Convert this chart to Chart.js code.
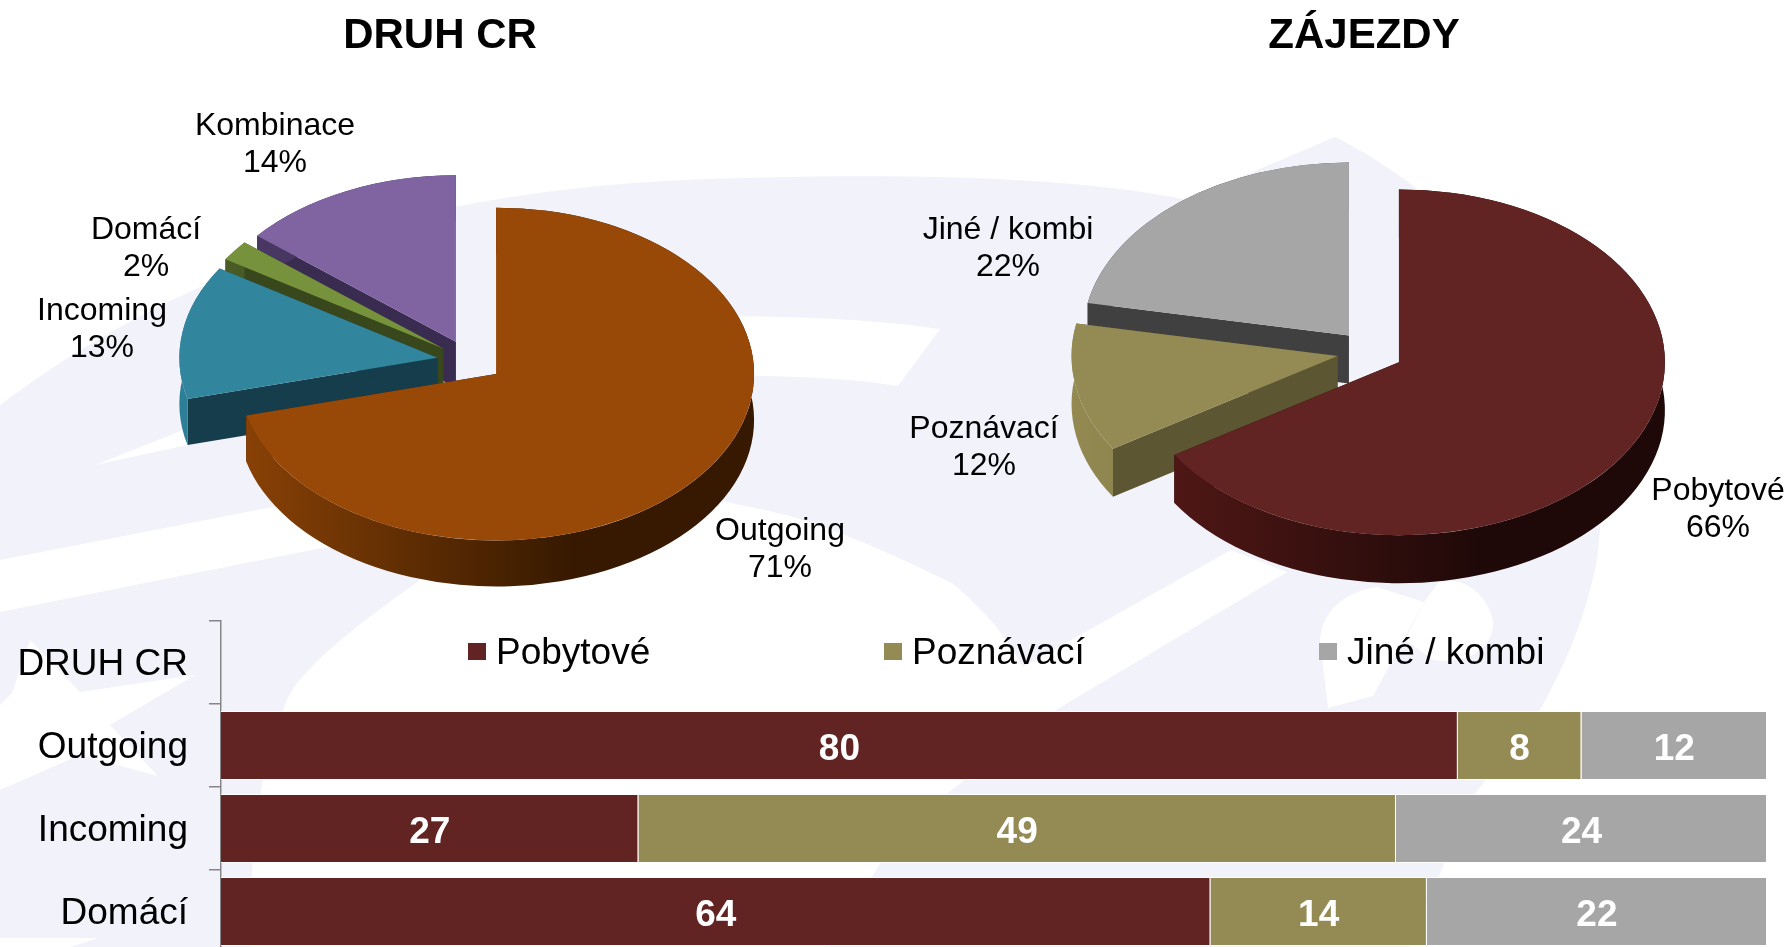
<!DOCTYPE html>
<html>
<head>
<meta charset="utf-8">
<title>Druh CR / Zájezdy</title>
<script src="https://cdn.jsdelivr.net/npm/chart.js@4"></script>
<style>
  html, body { margin: 0; width: 1789px; height: 947px; overflow: hidden; background: #fff; }
  canvas, svg { position: absolute; left: 0; top: 0; }
</style>
</head>
<body>
<!-- faint watermark behind the charts -->
<svg width="1789" height="947">
  <path fill="#f1f2fa" d="M0,405 C160,285 376,194 684,180 C912,171 1084,178 1187,200 L1335,137 C1440,190 1560,300 1600,450 C1605,490 1600,530 1597,560 C1585,620 1565,665 1540,710 L1470,800 L1410,947 L0,947 Z"/>
  <g fill="#fff">
    <path d="M0,560 L267,508 L560,470 L560,510 L317,549 L0,612 Z"/>
    <path d="M417,582 L500,520 L640,480 L740,505 C800,515 853,535 952,583 C985,610 1005,635 1023,667 L1231,550 L1287,572 L1056,710 L900,830 L830,947 L250,947 C250,830 262,760 287,700 C300,670 350,630 417,582 Z"/>
    <path d="M700,316 C800,316 880,320 940,329 L898,386 C850,378 800,376 700,375 Z"/>
    <path d="M95,465 L188,445 L183,430 Z"/>
    <path d="M0,705 L12,693 L30,640 L80,692 L195,675 L110,725 L158,776 L80,755 L0,790 Z"/>
    <path d="M0,938 L98,938 L70,947 L0,947 Z"/>
    <path d="M1320,640 C1322,610 1345,592 1377,587 L1424,602 L1373,696 L1328,708 Z"/>
    <path d="M1424,602 L1440,580 C1470,578 1490,600 1493,623 C1493,650 1465,665 1433,660 L1405,640 Z"/>
  </g>
</svg>

<canvas id="pie_druh" width="1789" height="947"></canvas>
<canvas id="pie_zajezdy" width="1789" height="947"></canvas>
<canvas id="bar_druh" width="1789" height="960"></canvas>

<script>
const FONT = '"Liberation Sans", Arial, sans-serif';

// left pie
const druhLabels = ['Outgoing', 'Incoming', 'Domácí', 'Kombinace'];
const druhValues = [71, 13, 2, 14];
const druhColors = ['#984807', '#31859c', '#76923c', '#8064a2'];
const druhSides = ['#3d1c00', '#163d4b', '#39481c', '#3a2c50'];
const druhWalls = [['#8a4206', '#361900'], ['#2d7f98', '#1c5265'], ['#4b5f26', '#39481c'], ['#4b3a66', '#3a2c50']];
const druhLabelX = [780, 102, 146, 275];
const druhLabelY = [531, 311, 230, 126];

// right pie
const zajezdyLabels = ['Pobytové', 'Poznávací', 'Jiné / kombi'];
const zajezdyValues = [66, 12, 22];
const zajezdyColors = ['#622423', '#948a54', '#a6a6a6'];
const zajezdySides = ['#240b0a', '#5d5632', '#404040'];
const zajezdyWalls = [['#551917', '#1f0908'], ['#938951', '#6f683c'], ['#404040', '#404040']];
const zajezdyLabelX = [1718, 984, 1008];
const zajezdyLabelY = [491, 429, 230];

// stacked bars
const barCategories = ['DRUH CR', 'Outgoing', 'Incoming', 'Domácí'];
const barPobytove = [null, 80, 27, 64];
const barPoznavaci = [null, 8, 49, 14];
const barJine = [null, 12, 24, 22];
const legendX = [468, 884, 1319];

// Fake 3D: squash each library arc into an ellipse, pull it out along its bisector
// and put a side wall under it. Back slices first so the front ones overlap them.
const pie3d = {
  id: 'pie3d',
  beforeDatasetDraw(chart, args, o) {
    const ctx = chart.ctx;
    const arcs = args.meta.data;
    for (let i = arcs.length - 1; i >= 0; i--) {
      const arc = arcs[i];
      const mid = (arc.startAngle + arc.endAngle) / 2;
      const r = arc.outerRadius;
      const ry = r * o.tilt;
      const cx = arc.x + Math.cos(mid) * o.explode;
      const cy = arc.y + Math.sin(mid) * o.explode * o.tilt;

      //cut faces
      ctx.fillStyle = o.sides[i];
      [arc.startAngle, arc.endAngle].forEach(a => {
        const px = cx + Math.cos(a) * r;
        const py = cy + Math.sin(a) * ry;
        ctx.beginPath();
        ctx.moveTo(cx, cy);
        ctx.lineTo(px, py);
        ctx.lineTo(px, py + o.depth);
        ctx.lineTo(cx, cy + o.depth);
        ctx.closePath();
        ctx.fill();
      });

      //outer wall
      const grad = ctx.createLinearGradient(cx - r, 0, cx + r * 0.3, 0);
      grad.addColorStop(0, o.walls[i][0]);
      grad.addColorStop(1, o.walls[i][1]);
      ctx.fillStyle = grad;
      ctx.beginPath();
      ctx.ellipse(cx, cy, r, ry, 0, arc.startAngle, arc.endAngle);
      ctx.ellipse(cx, cy + o.depth, r, ry, 0, arc.endAngle, arc.startAngle, true);
      ctx.closePath();
      ctx.fill();

      //top face
      ctx.save();
      ctx.translate(cx, cy);
      ctx.scale(1, o.tilt);
      ctx.translate(-arc.x, -arc.y);
      arc.draw(ctx);
      ctx.restore();
    }
    return false;
  },
  afterDraw(chart, args, o) {
    const ctx = chart.ctx;
    const values = chart.data.datasets[0].data;
    ctx.save();
    ctx.fillStyle = '#000';
    ctx.textAlign = 'center';
    ctx.textBaseline = 'middle';
    ctx.font = '32px ' + FONT;
    chart.data.labels.forEach((label, i) => {
      ctx.fillText(label, o.labelX[i], o.labelY[i]);
      ctx.fillText(values[i] + '%', o.labelX[i], o.labelY[i] + 37);
    });
    ctx.font = 'bold 42px ' + FONT;
    ctx.fillText(o.title, o.titleX, 36);
    ctx.restore();
  }
};

function drawPie(id, labels, values, colors, padding, extra) {
  new Chart(document.getElementById(id), {
    type: 'pie',
    data: {
      labels: labels,
      datasets: [{ data: values, backgroundColor: colors, borderWidth: 0 }]
    },
    options: {
      responsive: false,
      animation: false,
      layout: { padding: padding },
      plugins: {
        legend: { display: false },
        tooltip: { enabled: false },
        pie3d: Object.assign({ explode: 33 }, extra)
      }
    },
    plugins: [pie3d]
  });
}

drawPie('pie_druh', druhLabels, druhValues, druhColors,
  { left: 212, right: 1061, top: 103, bottom: 328 },
  { tilt: 0.645, depth: 46, sides: druhSides, walls: druhWalls, labelX: druhLabelX, labelY: druhLabelY, title: 'DRUH CR', titleX: 440 });

drawPie('pie_zajezdy', zajezdyLabels, zajezdyValues, zajezdyColors,
  { left: 1104, right: 153, top: 86, bottom: 329 },
  { tilt: 0.65, depth: 48, sides: zajezdySides, walls: zajezdyWalls, labelX: zajezdyLabelX, labelY: zajezdyLabelY, title: 'ZÁJEZDY', titleX: 1364 });

// numbers inside the bars and the legend sitting in the empty first row
const barText = {
  id: 'barText',
  afterDatasetsDraw(chart) {
    const ctx = chart.ctx;
    ctx.save();
    ctx.textBaseline = 'middle';
    chart.data.datasets.forEach((ds, d) => {
      ctx.textAlign = 'center';
      ctx.fillStyle = '#fff';
      ctx.font = 'bold 37px ' + FONT;
      chart.getDatasetMeta(d).data.forEach((bar, i) => {
        if (ds.data[i] === null) return;
        const c = bar.getCenterPoint();
        ctx.fillText(ds.data[i], c.x, c.y + 4);
      });

      ctx.fillStyle = ds.backgroundColor;
      ctx.fillRect(legendX[d], 643, 18, 17);
      ctx.textAlign = 'left';
      ctx.fillStyle = '#000';
      ctx.font = '37px ' + FONT;
      ctx.fillText(ds.label, legendX[d] + 28, 654);
    });
    ctx.restore();
  }
};

new Chart(document.getElementById('bar_druh'), {
  type: 'bar',
  data: {
    labels: barCategories,
    datasets: [
      { label: 'Pobytové', data: barPobytove, backgroundColor: '#622423' },
      { label: 'Poznávací', data: barPoznavaci, backgroundColor: '#948a54' },
      { label: 'Jiné / kombi', data: barJine, backgroundColor: '#a6a6a6' }
    ]
  },
  options: {
    indexAxis: 'y',
    responsive: false,
    animation: false,
    layout: { padding: { top: 621, right: 22, bottom: 7 } },
    datasets: {
      bar: { barPercentage: 0.83, categoryPercentage: 1, borderWidth: 1, borderColor: '#fff' }
    },
    scales: {
      x: { display: false, stacked: true, min: 0, max: 100 },
      y: {
        stacked: true,
        afterFit(scale) {
          scale.width = 221;
          scale.paddingTop = 0;
          scale.paddingBottom = 0;
        },
        border: { color: '#868686', width: 1.5 },
        grid: { drawOnChartArea: false, color: '#868686', lineWidth: 1.5, tickLength: 12 },
        ticks: { color: '#000', padding: 21, labelOffset: 2, font: { family: FONT, size: 37 } }
      }
    },
    plugins: {
      legend: { display: false },
      tooltip: { enabled: false }
    }
  },
  plugins: [barText]
});
</script>
</body>
</html>
